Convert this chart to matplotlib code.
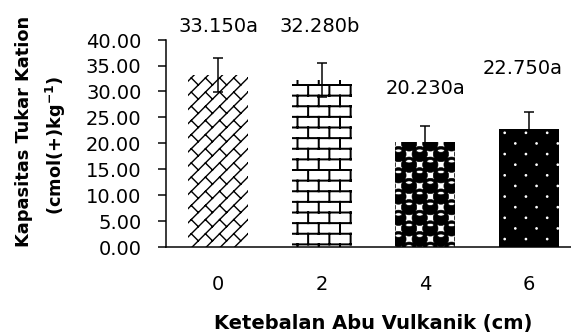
import numpy as np
import matplotlib
matplotlib.use('Agg')
import matplotlib.pyplot as plt
import matplotlib.hatch as mhatch
from matplotlib.path import Path
from matplotlib.transforms import Affine2D
from matplotlib.ticker import FormatStrFormatter

# data
categories = ['0', '2', '4', '6']
ktk = [33.15, 32.28, 20.23, 22.75]
ktk_err = [3.35, 3.3, 3.15, 3.35]
notation = ['a', 'b', 'a', 'a']

DPI = 256 / 3
PT = 72 / DPI          # points per pixel
N = 8                  # pattern cells per hatch tile
M = 12                 # finer grid for the diagonal brick


# ---- Excel-like fill patterns as custom hatches ----
def _segments(segs):
    verts = np.asarray(segs, float).reshape(-1, 2)
    codes = np.tile([Path.MOVETO, Path.LINETO], len(segs))
    return Path(verts, codes)


def brick_hatch():
    segs = []
    for j in range(-1, N + 2):
        segs.append([(-0.2, j / N), (1.2, j / N)])
        for m in range(-1, N // 2 + 2):
            xx = (2 * m + j % 2) / N
            segs.append([(xx, j / N), (xx, (j + 1) / N)])
    return _segments(segs)


def diagonal_brick_hatch():
    segs = []
    for k in range(-M // 2 - 2, M // 2 + 2):
        u = 2 * k
        segs.append([(-2 / M, (u - 2) / M), ((M + 2) / M, (u + M + 2) / M)])
        for m in range(-2, M // 2 + 3):
            v = 4 * m + 2 * (k % 2)
            segs.append([((v - u) / 2 / M, (v + u) / 2 / M),
                         ((v - u - 2) / 2 / M, (v + u + 2) / 2 / M)])
    return _segments(segs)


def checker_centers():
    return [((i + 0.5) / N, (j + 0.5) / N)
            for i in range(-1, N + 1) for j in range(-1, N + 1)
            if (i + j) % 2 == 0]


def sphere_hatch():
    parts = []
    for cx, cy in checker_centers():
        parts.append(Path.circle((cx, cy), 0.72 / N))
        hole = Affine2D().scale(0.32 / N, -0.15 / N).translate(cx, cy + 0.32 / N)
        parts.append(Path.unit_circle().transformed(hole))
    return Path.make_compound_path(*parts)


def dot_hatch():
    parts = [Path.circle(c, 0.06 / N) for c in checker_centers()]
    return Path.make_compound_path(*parts)


_custom_hatches = {'x': diagonal_brick_hatch(), '+': brick_hatch(),
                   'o': sphere_hatch(), '.': dot_hatch()}
_orig_get_path = mhatch.get_path


def _get_path(hatchpattern, density=6):
    if hatchpattern in _custom_hatches:
        return _custom_hatches[hatchpattern]
    return _orig_get_path(hatchpattern, density)


mhatch.get_path = _get_path

plt.rcParams['font.family'] = 'DejaVu Sans'
plt.rcParams['hatch.linewidth'] = 1.6 * PT

fig = plt.figure(figsize=(571.4 / DPI, 332.4 / DPI), dpi=DPI)
ax = fig.add_axes([166.3 / 571, 85 / 332, 413.6 / 571, 207 / 332])

x = np.arange(len(categories))
bars = ax.bar(x, ktk, width=0.58, yerr=ktk_err, capsize=4.7 * PT,
              error_kw=dict(elinewidth=1.5 * PT, capthick=1.5 * PT, ecolor='black'),
              color=['white', 'white', 'white', 'black'],
              edgecolor=['black', 'black', 'black', 'white'], linewidth=0)

hatch_styles = ['x', '+', 'o', '.']
hatch_lw = [1.4, 2.0, 0.6, 1.4]
for p, h, lw in zip(bars, hatch_styles, hatch_lw):
    p.set_hatch(h)
    if hasattr(p, 'set_hatch_linewidth'):
        p.set_hatch_linewidth(lw * PT)

ax.set_xlim(-0.5, 3.5)
ax.set_ylim(0, 40)
ax.set_yticks(np.arange(0, 40.1, 5))
ax.yaxis.set_major_formatter(FormatStrFormatter('%.2f'))
ax.set_xticks(x, categories)
ax.tick_params(axis='y', length=8 * PT, width=1.5 * PT, pad=17 * PT,
               labelsize=16.5, colors='black')
ax.tick_params(axis='x', length=0, pad=28 * PT, labelsize=16.5, colors='black')
for s in ['top', 'right']:
    ax.spines[s].set_visible(False)
for s in ['left', 'bottom']:
    ax.spines[s].set_linewidth(1.5 * PT)
    ax.spines[s].set_color('black')

# value labels with notation letters
label_y = [41.64, 41.64, 29.57, 33.43]
label_dx = [0, -0.02, 0, -0.06]
for i, (v, n) in enumerate(zip(ktk, notation)):
    ax.text(x[i] + label_dx[i], label_y[i], f'{v:.3f}{n}', ha='center',
            va='baseline', fontsize=16.5, color='black')

fig.text(24 / 571, (332 - 131.5) / 332, 'Kapasitas Tukar Kation', rotation=90,
         ha='center', va='center', fontsize=15, fontweight='bold')
fig.text(56 / 571, (332 - 145) / 332, r'(cmol(+)kg$^{\mathbf{-1}}$)', rotation=90,
         ha='center', va='center', fontsize=15, fontweight='bold')
fig.text(373 / 571, 3.5 / 332, 'Ketebalan Abu Vulkanik (cm)', ha='center',
         va='baseline', fontsize=16.5, fontweight='bold')

fig.savefig('out.png', dpi=DPI)
